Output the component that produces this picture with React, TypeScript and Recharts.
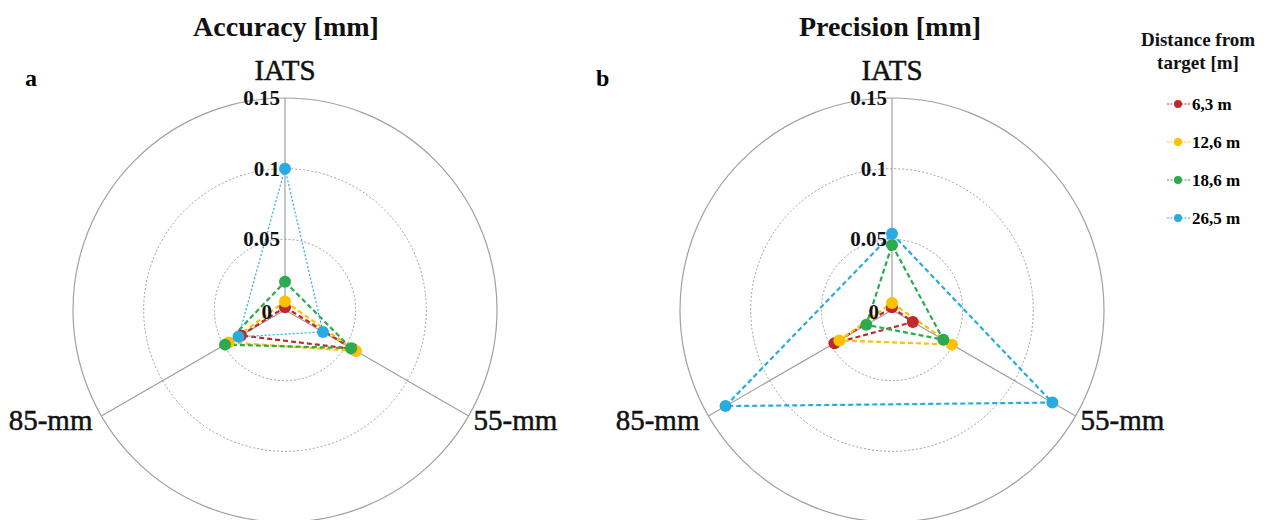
import React from 'react';
import { RadarChart, Radar, PolarGrid, PolarAngleAxis, PolarRadiusAxis } from 'recharts';

// categories (spokes) and legend entries
const axes = ['IATS', '55-mm', '85-mm'];
const distances = ['6,3 m', '12,6 m', '18,6 m', '26,5 m'];
const colors = ['#C0282D', '#FFC000', '#2DA94F', '#29ABE2'];
const radiusTicks = [0, 0.05, 0.1, 0.15];

// a - accuracy [mm], values in order of axes
const accuracy63 = [0.002, 0.055, 0.036];
const accuracy126 = [0.006, 0.058, 0.046];
const accuracy186 = [0.02, 0.054, 0.049];
const accuracy265 = [0.1, 0.031, 0.038];

// b - precision [mm]
const precision63 = [0.002, 0.017, 0.047];
const precision126 = [0.005, 0.049, 0.043];
const precision186 = [0.046, 0.042, 0.021];
const precision265 = [0.054, 0.131, 0.136];

const keys = ['d63', 'd126', 'd186', 'd265'];

const buildRows = (series: number[][]) =>
    axes.map((axis, i) => {
        const row: any = { axis };
        keys.forEach((k, s) => (row[k] = series[s][i]));
        return row;
    });

const accuracyData = buildRows([accuracy63, accuracy126, accuracy186, accuracy265]);
const precisionData = buildRows([precision63, precision126, precision186, precision265]);

const FONT = '"Liberation Serif", "DejaVu Serif", serif';
const R = 212;

const AngleTick = (props: any) => {
    const { x, y, payload, textAnchor } = props;
    let dx = 0;
    let dy = 10;
    if (textAnchor === 'middle') dy = -10;
    else dx = -2;
    return (
        <text
            x={x + dx}
            y={y + dy}
            textAnchor={textAnchor}
            fontFamily={FONT}
            fontSize={29}
            fill="#111"
            stroke="#111"
            strokeWidth={0.5}
        >
            {payload.value}
        </text>
    );
};

const RadiusTick = (props: any) => {
    const { x, y, payload } = props;
    const v = payload.value;
    return (
        <text
            x={x - (v === 0 ? 13 : 5)}
            y={y + (v === 0 ? 2 : 0)}
            textAnchor="end"
            dominantBaseline="central"
            fontFamily={FONT}
            fontSize={21}
            fontWeight="bold"
            fill="#111"
        >
            {String(v)}
        </text>
    );
};

const makeDot = (color: string) => (p: any) => (
    <circle key={`${p.dataKey}-${p.index}`} cx={p.cx} cy={p.cy} r={6} fill={color} stroke="none" />
);

const Panel = ({ data, cx, width, dottedLast }: { data: any[]; cx: number; width: number; dottedLast: boolean }) => (
    <RadarChart width={width} height={520} data={data} cx={cx} cy={310} outerRadius={R} margin={{ top: 0, right: 0, bottom: 0, left: 0 }}>
        <PolarGrid gridType="circle" polarRadius={[R]} stroke="#a0a0a0" strokeWidth={1.2} />
        <PolarGrid gridType="circle" polarRadius={[R / 3, (2 * R) / 3]} radialLines={false} stroke="#888" strokeDasharray="2 2" strokeWidth={0.8} />
        <PolarAngleAxis dataKey="axis" tick={<AngleTick />} tickLine={false} axisLine={false} />
        <PolarRadiusAxis angle={90} domain={[0, 0.15]} ticks={radiusTicks} tick={<RadiusTick />} axisLine={false} tickLine={false} />
        {keys.map((k, i) => {
            const thin = dottedLast && i === 3;
            return (
                <Radar
                    key={k}
                    dataKey={k}
                    name={distances[i]}
                    stroke={colors[i]}
                    strokeWidth={thin ? 1.2 : 2.2}
                    strokeDasharray={thin ? '2 2' : '5 3'}
                    fill="none"
                    fillOpacity={0}
                    dot={makeDot(colors[i])}
                    isAnimationActive={false}
                />
            );
        })}
    </RadarChart>
);

const titleStyle: React.CSSProperties = {
    position: 'absolute',
    fontFamily: FONT,
    fontWeight: 'bold',
    fontSize: 28,
    color: '#111',
    textAlign: 'center',
    width: 300,
    top: 11,
};

const Legend = () => (
    <div style={{ position: 'absolute', left: 1118, top: 28, width: 160, fontFamily: FONT, color: '#111' }}>
        <div style={{ textAlign: 'center', fontWeight: 'bold', fontSize: 19, lineHeight: '23px' }}>
            Distance from
            <br />
            target [m]
        </div>
        <svg width={160} height={160} style={{ display: 'block', marginTop: 12 }}>
            {distances.map((d, i) => {
                const y = 18 + i * 38;
                return (
                    <g key={d}>
                        <line x1={49} x2={72} y1={y} y2={y} stroke={colors[i]} strokeWidth={1} strokeDasharray="2 1.5" />
                        <circle cx={60} cy={y} r={4} fill={colors[i]} />
                        <text x={74} y={y} dominantBaseline="central" fontSize={17} fontWeight="bold" fontFamily={FONT}>
                            {d}
                        </text>
                    </g>
                );
            })}
        </svg>
    </div>
);

export default function App() {
    return (
        <div style={{ position: 'absolute', left: 0, top: 0, width: 1277, height: 520, background: '#fff', overflow: 'hidden' }}>
            <div style={{ position: 'absolute', left: 0, top: 0 }}>
                <Panel data={accuracyData} cx={285} width={600} dottedLast={true} />
            </div>
            <div style={{ position: 'absolute', left: 600, top: 0 }}>
                <Panel data={precisionData} cx={292} width={677} dottedLast={false} />
            </div>
            <div style={{ ...titleStyle, left: 136 }}>Accuracy [mm]</div>
            <div style={{ ...titleStyle, left: 740 }}>Precision [mm]</div>
            <div style={{ position: 'absolute', left: 25, top: 65, fontFamily: FONT, fontWeight: 'bold', fontSize: 24 }}>a</div>
            <div style={{ position: 'absolute', left: 596, top: 65, fontFamily: FONT, fontWeight: 'bold', fontSize: 24 }}>b</div>
            <Legend />
        </div>
    );
}
